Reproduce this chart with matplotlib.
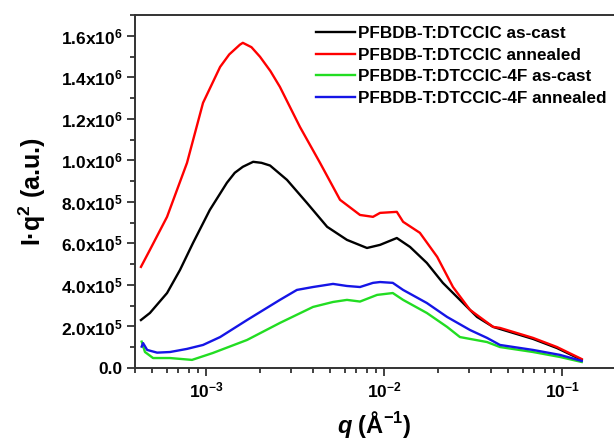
#!/usr/bin/env python3
"""SAXS Lorentz-corrected profiles, I*q^2 vs q (log x)."""

import matplotlib

matplotlib.use("Agg")
import matplotlib.pyplot as plt
from matplotlib.ticker import FixedLocator, FixedFormatter, MultipleLocator, LogLocator, NullFormatter


# values
q_ascast = [4.31e-4, 4.84e-4, 6.04e-4, 7.14e-4, 8.45e-4, 1.05e-3, 1.31e-3, 1.45e-3, 1.61e-3,
            1.84e-3, 2.05e-3, 2.29e-3, 2.85e-3, 3.69e-3, 4.79e-3, 6.19e-3, 8.02e-3, 9.50e-3,
            1.18e-2, 1.40e-2, 1.74e-2, 2.14e-2, 2.67e-2, 3.33e-2, 4.10e-2, 6.87e-2, 9.37e-2, 0.129]
i_ascast = [2.31e5, 2.65e5, 3.61e5, 4.72e5, 6.02e5, 7.61e5, 8.92e5, 9.40e5, 9.69e5,
            9.93e5, 9.88e5, 9.75e5, 9.06e5, 7.95e5, 6.80e5, 6.17e5, 5.78e5, 5.93e5,
            6.26e5, 5.83e5, 5.06e5, 4.10e5, 3.28e5, 2.46e5, 1.98e5, 1.40e5, 9.6e4, 3.9e4]

q_annealed = [4.31e-4, 4.84e-4, 6.04e-4, 7.82e-4, 9.62e-4, 1.20e-3, 1.35e-3, 1.55e-3, 1.61e-3,
              1.80e-3, 2.01e-3, 2.30e-3, 2.60e-3, 3.37e-3, 4.37e-3, 5.66e-3, 7.33e-3, 8.67e-3,
              9.50e-3, 1.18e-2, 1.28e-2, 1.59e-2, 1.99e-2, 2.44e-2, 3.04e-2, 4.10e-2, 4.48e-2,
              6.87e-2, 9.37e-2, 0.129]
i_annealed = [4.87e5, 5.69e5, 7.28e5, 9.88e5, 1.277e6, 1.45e6, 1.51e6, 1.557e6, 1.566e6,
              1.545e6, 1.499e6, 1.43e6, 1.354e6, 1.161e6, 9.88e5, 8.10e5, 7.37e5, 7.28e5,
              7.47e5, 7.52e5, 7.04e5, 6.51e5, 5.35e5, 3.90e5, 2.80e5, 1.98e5, 1.93e5,
              1.45e5, 1.01e5, 4.3e4]

q_4f_ascast = [4.35e-4, 4.54e-4, 5.04e-4, 6.28e-4, 8.34e-4, 1.09e-3, 1.70e-3, 2.60e-3, 3.99e-3,
               5.17e-3, 6.19e-3, 7.33e-3, 9.14e-3, 1.12e-2, 1.28e-2, 1.74e-2, 2.26e-2, 2.67e-2,
               3.79e-2, 4.48e-2, 6.87e-2, 9.75e-2, 0.129]
i_4f_ascast = [1.27e5, 7.7e4, 4.8e4, 4.8e4, 3.9e4, 7.2e4, 1.35e5, 2.17e5, 2.94e5,
               3.18e5, 3.28e5, 3.20e5, 3.52e5, 3.61e5, 3.28e5, 2.65e5, 1.98e5, 1.49e5,
               1.25e5, 1.01e5, 7.7e4, 5.3e4, 2.9e4]

q_4f_annealed = [4.35e-4, 4.43e-4, 4.67e-4, 5.31e-4, 6.28e-4, 7.82e-4, 9.62e-4, 1.20e-3, 1.70e-3,
                 2.60e-3, 3.24e-3, 3.99e-3, 5.17e-3, 6.19e-3, 7.33e-3, 8.67e-3, 9.50e-3, 1.12e-2,
                 1.28e-2, 1.74e-2, 2.26e-2, 3.04e-2, 3.79e-2, 4.48e-2, 6.87e-2, 9.75e-2, 0.129]
i_4f_annealed = [1.03e5, 1.20e5, 8.7e4, 7.4e4, 7.7e4, 9.2e4, 1.11e5, 1.49e5, 2.31e5,
                 3.28e5, 3.76e5, 3.90e5, 4.05e5, 3.95e5, 3.90e5, 4.10e5, 4.14e5, 4.10e5,
                 3.76e5, 3.13e5, 2.46e5, 1.83e5, 1.45e5, 1.11e5, 8.7e4, 6.3e4, 3.4e4]

labels = ["PFBDB-T:DTCCIC as-cast", "PFBDB-T:DTCCIC annealed",
          "PFBDB-T:DTCCIC-4F as-cast", "PFBDB-T:DTCCIC-4F annealed"]
colors = ["black", "#ff0000", "#22dd22", "#1515e6"]

y_ticks = [0, 2e5, 4e5, 6e5, 8e5, 1.0e6, 1.2e6, 1.4e6, 1.6e6]
y_ticklabels = ["0.0", "2.0x10$^{5}$", "4.0x10$^{5}$", "6.0x10$^{5}$", "8.0x10$^{5}$",
                "1.0x10$^{6}$", "1.2x10$^{6}$", "1.4x10$^{6}$", "1.6x10$^{6}$"]
x_ticks = [1e-3, 1e-2, 1e-1]
x_ticklabels = ["10$^{-3}$", "10$^{-2}$", "10$^{-1}$"]


def main() -> int:
    plt.rcParams["font.family"] = ["Liberation Sans", "DejaVu Sans"]
    plt.rcParams["font.weight"] = "bold"
    plt.rcParams["mathtext.fontset"] = "custom"
    plt.rcParams["mathtext.rm"] = "Liberation Sans:bold"
    plt.rcParams["mathtext.bf"] = "Liberation Sans:bold"
    plt.rcParams["mathtext.it"] = "Liberation Sans:bold:italic"

    fig = plt.figure(figsize=(6.14, 4.43), dpi=100)
    ax = fig.add_axes([135 / 614, 1 - 368 / 443, (614 - 135) / 614, (368 - 15) / 443])

    series = [(q_ascast, i_ascast), (q_annealed, i_annealed),
              (q_4f_ascast, i_4f_ascast), (q_4f_annealed, i_4f_annealed)]
    for (q, inten), label, color in zip(series, labels, colors):
        ax.plot(q, inten, color=color, lw=1.7, label=label)

    ax.set_xscale("log")
    ax.set_xlim(10 ** -3.399, 10 ** -0.708)
    ax.set_ylim(0, 1.7e6)

    ax.xaxis.set_major_locator(FixedLocator(x_ticks))
    ax.xaxis.set_major_formatter(FixedFormatter(x_ticklabels))
    ax.xaxis.set_minor_locator(LogLocator(base=10, subs=range(2, 10)))
    ax.xaxis.set_minor_formatter(NullFormatter())
    ax.yaxis.set_major_locator(FixedLocator(y_ticks))
    ax.yaxis.set_major_formatter(FixedFormatter(y_ticklabels))
    ax.yaxis.set_minor_locator(MultipleLocator(1e5))

    ax.tick_params(which="both", direction="out", top=False, right=False,
                   width=1.3, color="#333333", labelsize=12.5)
    ax.tick_params(which="major", length=6, pad=3)
    ax.tick_params(which="minor", length=3.5)
    for side in ("left", "bottom", "top"):
        ax.spines[side].set_linewidth(1.4)
        ax.spines[side].set_color("#333333")
    ax.spines["right"].set_visible(False)

    ax.set_xlabel(r"$q$ (Å$^{-1}$)", fontsize=17, fontweight="bold", labelpad=6)
    ax.set_ylabel(r"I·q$^{2}$ (a.u.)", fontsize=18, fontweight="bold", labelpad=9)

    ax.legend(loc="upper left", bbox_to_anchor=(0.355, 1.0), frameon=False,
              fontsize=12.3, handlelength=2.3, handletextpad=0.17,
              labelspacing=0.38, borderaxespad=0.25)

    fig.savefig("out.png", dpi=100)
    return 0


if __name__ == "__main__":
    raise SystemExit(main())
